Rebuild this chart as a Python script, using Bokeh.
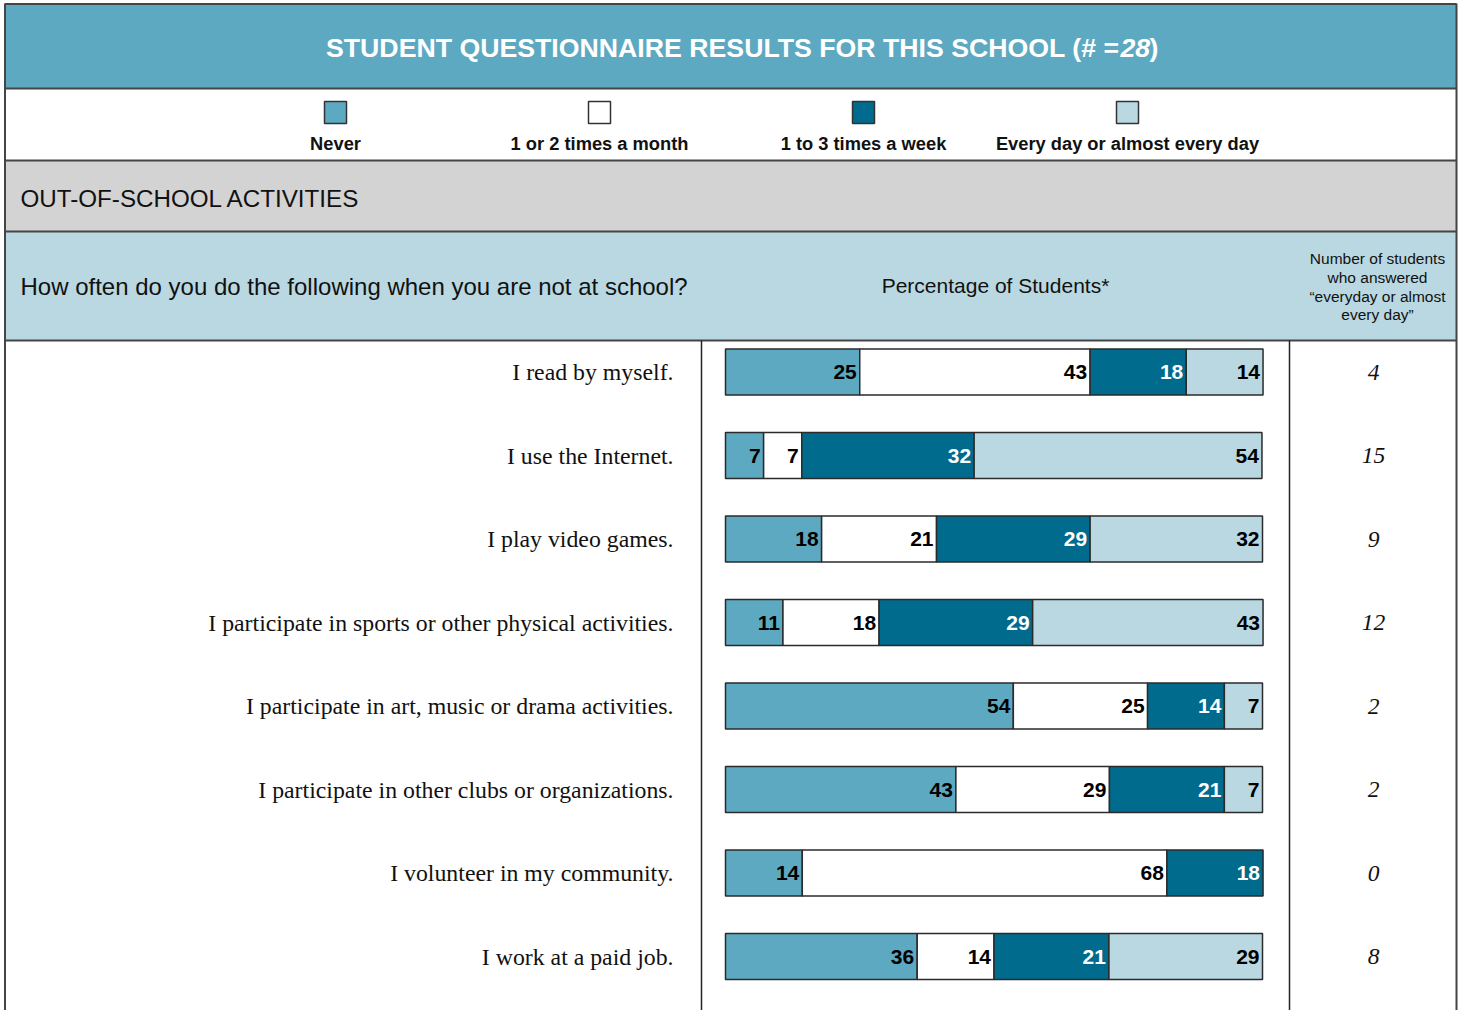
from bokeh.plotting import figure
from bokeh.models import Range1d, ColumnDataSource
from bokeh.core.properties import value
from bokeh.embed import file_html
from bokeh.resources import INLINE

# ---------------- data ----------------
title_main = "STUDENT QUESTIONNAIRE RESULTS FOR THIS SCHOOL (# ="
school_n = "28"
section_title = "OUT-OF-SCHOOL ACTIVITIES"
question = "How often do you do the following when you are not at school?"
pct_header = "Percentage of Students*"
count_header = ["Number of students", "who answered", "\u201ceveryday or almost", "every day\u201d"]

categories = ["Never", "1 or 2 times a month", "1 to 3 times a week", "Every day or almost every day"]
activities = [
    "I read by myself.",
    "I use the Internet.",
    "I play video games.",
    "I participate in sports or other physical activities.",
    "I participate in art, music or drama activities.",
    "I participate in other clubs or organizations.",
    "I volunteer in my community.",
    "I work at a paid job.",
]
# percentage of students (bar lengths; labels are shown rounded)
never = [25.0, 7.1, 17.9, 10.7, 53.6, 42.9, 14.3, 35.7]
monthly = [42.9, 7.1, 21.4, 17.9, 25.0, 28.6, 67.9, 14.3]
weekly = [17.9, 32.1, 28.6, 28.6, 14.3, 21.4, 17.9, 21.4]
daily = [14.3, 53.6, 32.1, 42.9, 7.1, 7.1, 0.0, 28.6]
daily_counts = [4, 15, 9, 12, 2, 2, 0, 8]

colors = ["#5DA9C1", "#FFFFFF", "#006B8C", "#B9D8E2"]
label_colors = ["#000000", "#000000", "#FFFFFF", "#000000"]

# ---------------- layout constants (pixel space) ----------------
W, H = 1458, 1010
LEFT, RIGHT = 4.5, 1456
BAR_X0, BAR_X1 = 725, 1262
ROW0_Y, ROW_STEP = 371.5, 83.5
BAR_H_PX = 46

SANS = "Liberation Sans"
SERIF = "Liberation Serif"
LINE = "#454545"
INK = "#111111"

p = figure(width=W, height=H, x_range=Range1d(0, W), y_range=Range1d(H, 0),
           x_axis_type=None, y_axis_type=None, toolbar_location=None, output_backend="svg",
           min_border=0, outline_line_color=None, background_fill_color="white",
           border_fill_color="white")
p.grid.visible = False

# extra ranges for bars: percent on x, row index on y
px_per_pct = (BAR_X1 - BAR_X0) / 100.0
p.extra_x_ranges = {"pct": Range1d((0 - BAR_X0) / px_per_pct, (W - BAR_X0) / px_per_pct)}
p.extra_y_ranges = {"row": Range1d((H - ROW0_Y) / ROW_STEP, (0 - ROW0_Y) / ROW_STEP)}

# ---------------- header bands ----------------
p.quad(left=[LEFT, LEFT, LEFT], right=[RIGHT] * 3, top=[3.5, 160, 231], bottom=[88, 231, 340],
       fill_color=[colors[0], "#D3D3D3", colors[3]], line_color=None)

for yy in [3.5, 88, 160, 231, 340]:
    p.line(x=[LEFT, RIGHT], y=[yy, yy], line_color=LINE, line_width=2)
p.line(x=[LEFT, LEFT], y=[3, H], line_color=LINE, line_width=2)
p.line(x=[RIGHT, RIGHT], y=[3, H], line_color=LINE, line_width=2)
p.line(x=[701, 701], y=[340, H], line_color="#222222", line_width=1.5)
p.line(x=[1289, 1289], y=[340, H], line_color="#222222", line_width=1.5)

# title
TS = "26.7px"
p.text(x=[1119], y=[47], text=[title_main], text_align="right", text_baseline="middle",
       text_color="white", text_font=value(SANS), text_font_style="bold", text_font_size=TS)
p.text(x=[1120], y=[47], text=[school_n], text_align="left", text_baseline="middle",
       text_color="white", text_font=value(SANS), text_font_style="bold italic", text_font_size=TS)
p.text(x=[1149], y=[47], text=[")"], text_align="left", text_baseline="middle",
       text_color="white", text_font=value(SANS), text_font_style="bold", text_font_size=TS)

# legend
leg_x = [335, 599, 863, 1127]
p.scatter(x=leg_x, y=[112] * 4, marker="square", size=22, fill_color=colors,
          line_color="#333333", line_width=1.5)
p.text(x=leg_x, y=[143] * 4, text=categories, text_align="center", text_baseline="middle",
       text_color=INK, text_font=value(SANS), text_font_style="bold", text_font_size="18.3px")

# section + question headers
p.text(x=[20], y=[197.5], text=[section_title], text_align="left", text_baseline="middle",
       text_color=INK, text_font=value(SANS), text_font_size="24.2px")
p.text(x=[20], y=[285.5], text=[question], text_align="left", text_baseline="middle",
       text_color=INK, text_font=value(SANS), text_font_size="24px")
p.text(x=[995], y=[285], text=[pct_header], text_align="center", text_baseline="middle",
       text_color=INK, text_font=value(SANS), text_font_size="21px")
p.text(x=[1377] * 4, y=[258, 277, 295.5, 313.5], text=count_header, text_align="center",
       text_baseline="middle", text_color=INK, text_font=value(SANS), text_font_size="15.5px")

# ---------------- stacked bars ----------------
series = [never, monthly, weekly, daily]
seg = dict(row=[], left=[], right=[], color=[], tcolor=[], label=[])
for i in range(len(activities)):
    cum = 0.0
    for k, s in enumerate(series):
        v = s[i]
        if v > 0:
            seg["row"].append(i)
            seg["left"].append(cum)
            seg["right"].append(cum + v)
            seg["color"].append(colors[k])
            seg["tcolor"].append(label_colors[k])
            seg["label"].append(f"{v:.0f}")
        cum += v
src = ColumnDataSource(seg)
p.hbar(y="row", left="left", right="right", height=BAR_H_PX / ROW_STEP, fill_color="color",
       line_color="#2B2B2B", line_width=1.5, source=src, x_range_name="pct", y_range_name="row")
p.text(x="right", y="row", text="label", x_offset=-3, text_align="right", text_baseline="middle",
       text_color="tcolor", text_font=value(SANS), text_font_style="bold", text_font_size="21px",
       source=src, x_range_name="pct", y_range_name="row")

# activity labels
rows = list(range(len(activities)))
p.text(x=[673] * len(activities), y=rows, text=activities, text_align="right", text_baseline="middle",
       text_color=INK, text_font=value(SERIF), text_font_size="23.8px", y_range_name="row")
# counts
p.text(x=[1373] * len(activities), y=rows, text=[str(c) for c in daily_counts], text_align="center",
       text_baseline="middle", text_color=INK, text_font=value(SERIF), text_font_style="italic",
       text_font_size="23.5px", y_range_name="row")

open("out.html", "w").write(file_html(p, INLINE))
